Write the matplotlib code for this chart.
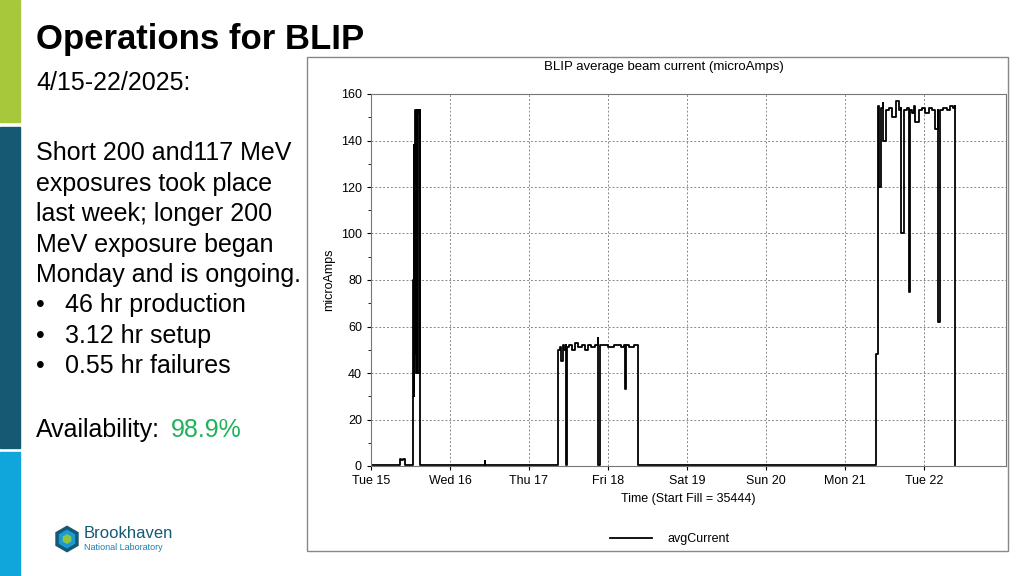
import matplotlib.pyplot as plt
import matplotlib.patches as patches
from matplotlib.lines import Line2D

plt.rcParams['font.family'] = 'Liberation Sans'

# hours since Tue 15 00:00
hours = [0, 8.8, 8.9, 9.2, 9.6, 10.0, 10.3, 10.4, 12.8, 12.9, 13.0, 13.1, 13.2, 13.3,
         13.4, 13.5, 13.6, 13.7, 13.8, 13.9, 14.0, 14.1, 14.3, 14.4, 14.8, 14.9,
         34.5, 34.6, 34.7,
         56.8, 56.9, 57.3, 57.8, 58.3, 58.8, 59.2, 59.3, 59.5, 59.6, 60.2, 61.0,
         62.0, 63.0, 64.0, 65.0, 66.0, 67.0, 68.0, 68.9, 69.0, 69.6, 69.7, 70.5,
         72.0, 74.0, 76.0, 77.0, 77.3, 77.6, 78.5, 80.0, 81.1, 81.2,
         153.4, 153.5, 153.9, 154.0, 154.4, 155.0, 155.6, 155.7, 156.4, 157.5,
         158.5, 159.5, 160.5, 161.0, 161.2, 162.0, 163.0, 163.5, 163.7, 164.5,
         165.0, 165.3, 166.5, 167.5, 168.5, 169.5, 170.5, 171.5, 172.2, 172.4,
         173.0, 174.0, 175.0, 176.0, 177.0, 177.5, 177.6]
current = [0.5, 0.5, 3, 2.5, 3, 3, 0.5, 0.5, 0.5, 80, 30, 138, 48, 153, 140, 153, 60,
           150, 40, 153, 80, 152, 153, 40, 153, 0.5,
           0.5, 2, 0.5,
           0.5, 50, 51, 45, 52, 50, 52, 0.5, 0.5, 51, 52, 50, 53, 51, 52, 50, 52, 51,
           52, 55, 0.5, 0.5, 52, 52, 51, 52, 51, 52, 33, 52, 51, 52, 52, 0.5,
           0.5, 48, 48, 155, 120, 154, 156, 140, 153, 154, 150, 157, 153, 154, 100,
           153, 154, 75, 153, 152, 155, 148, 153, 154, 152, 154, 153, 145, 153, 62,
           153, 154, 153, 155, 154, 155, 0.5]

day_labels = ['Tue 15', 'Wed 16', 'Thu 17', 'Fri 18', 'Sat 19', 'Sun 20', 'Mon 21', 'Tue 22']
y_ticks = [0, 20, 40, 60, 80, 100, 120, 140, 160]

fig = plt.figure(figsize=(10.24, 5.76), dpi=100)

# side colour bars
fig.patches.append(patches.Rectangle((0, 1 - 122/576), 20/1024, 122/576,
                                     transform=fig.transFigure, color='#a7c83a'))
fig.patches.append(patches.Rectangle((0, 1 - 448/576), 20/1024, 321/576,
                                     transform=fig.transFigure, color='#155a72'))
fig.patches.append(patches.Rectangle((0, 0), 20/1024, 124/576,
                                     transform=fig.transFigure, color='#10a6dc'))
# chart panel frame
fig.patches.append(patches.Rectangle((307/1024, 1 - 551/576), 701/1024, 494/576,
                                     transform=fig.transFigure, fill=False,
                                     edgecolor='#888888', linewidth=1))

fig.text(36/1024, 1 - 40/576, 'Operations for BLIP', fontsize=25, fontweight='bold',
         va='center')
fig.text(36/1024, 1 - 83/576, '4/15-22/2025:', fontsize=18, va='center')
body = ['Short 200 and117 MeV', 'exposures took place', 'last week; longer 200',
        'MeV exposure began', 'Monday and is ongoing.']
for i, line in enumerate(body):
    fig.text(36/1024, 1 - (153 + 30.5*i)/576, line, fontsize=18, va='center')
bullets = ['46 hr production', '3.12 hr setup', '0.55 hr failures']
for i, line in enumerate(bullets):
    y = 1 - (305 + 30.5*i)/576
    fig.text(36/1024, y, '•', fontsize=18, va='center')
    fig.text(65/1024, y, line, fontsize=18, va='center')
fig.text(36/1024, 1 - 430/576, 'Availability:', fontsize=18, va='center')
fig.text(171/1024, 1 - 430/576, '98.9%', fontsize=18, va='center', color='#1fb25a')

# logo
fig.patches.append(patches.RegularPolygon((0.67, 0.37), 6, radius=0.115,
                                          transform=fig.dpi_scale_trans,
                                          facecolor='#1a9bd7', edgecolor='#155a72',
                                          linewidth=2.5))
fig.patches.append(patches.RegularPolygon((0.67, 0.37), 6, radius=0.05,
                                          transform=fig.dpi_scale_trans,
                                          facecolor='#8cc63f', edgecolor='none'))
fig.text(84/1024, 1 - 533/576, 'Brookhaven', fontsize=12, color='#155a72', va='center')
fig.text(84/1024, 1 - 548/576, 'National Laboratory', fontsize=6.5, color='#1a80b0',
         va='center')

ax = fig.add_axes([371/1024, 1 - 466/576, 635/1024, 372/576])
ax.plot(hours, current, color='black', linewidth=1.3, drawstyle='steps-post')
ax.set_xlim(0, 193)
ax.set_ylim(0, 160)
ax.set_xticks([24*i for i in range(len(day_labels))])
ax.set_xticklabels(day_labels)
ax.set_yticks(y_ticks)
ax.set_yticks(range(0, 161, 10), minor=True)
ax.tick_params(labelsize=9, length=3)
ax.tick_params(which='minor', length=2)
ax.grid(True, linestyle=(0, (2, 2)), color='#888888', linewidth=0.7)
ax.set_ylabel('microAmps', fontsize=9)
ax.set_xlabel('Time (Start Fill = 35444)', fontsize=9)
for s in ax.spines.values():
    s.set_color('#777777')
fig.text(664/1024, 1 - 67/576, 'BLIP average beam current (microAmps)', fontsize=9.5,
         ha='center', va='center')

fig.lines.append(Line2D([610/1024, 652/1024], [1 - 538/576, 1 - 538/576],
                        transform=fig.transFigure, color='black', linewidth=1.3))
fig.text(667/1024, 1 - 539/576, 'avgCurrent', fontsize=9, va='center')

fig.savefig('out.png', dpi=100)
